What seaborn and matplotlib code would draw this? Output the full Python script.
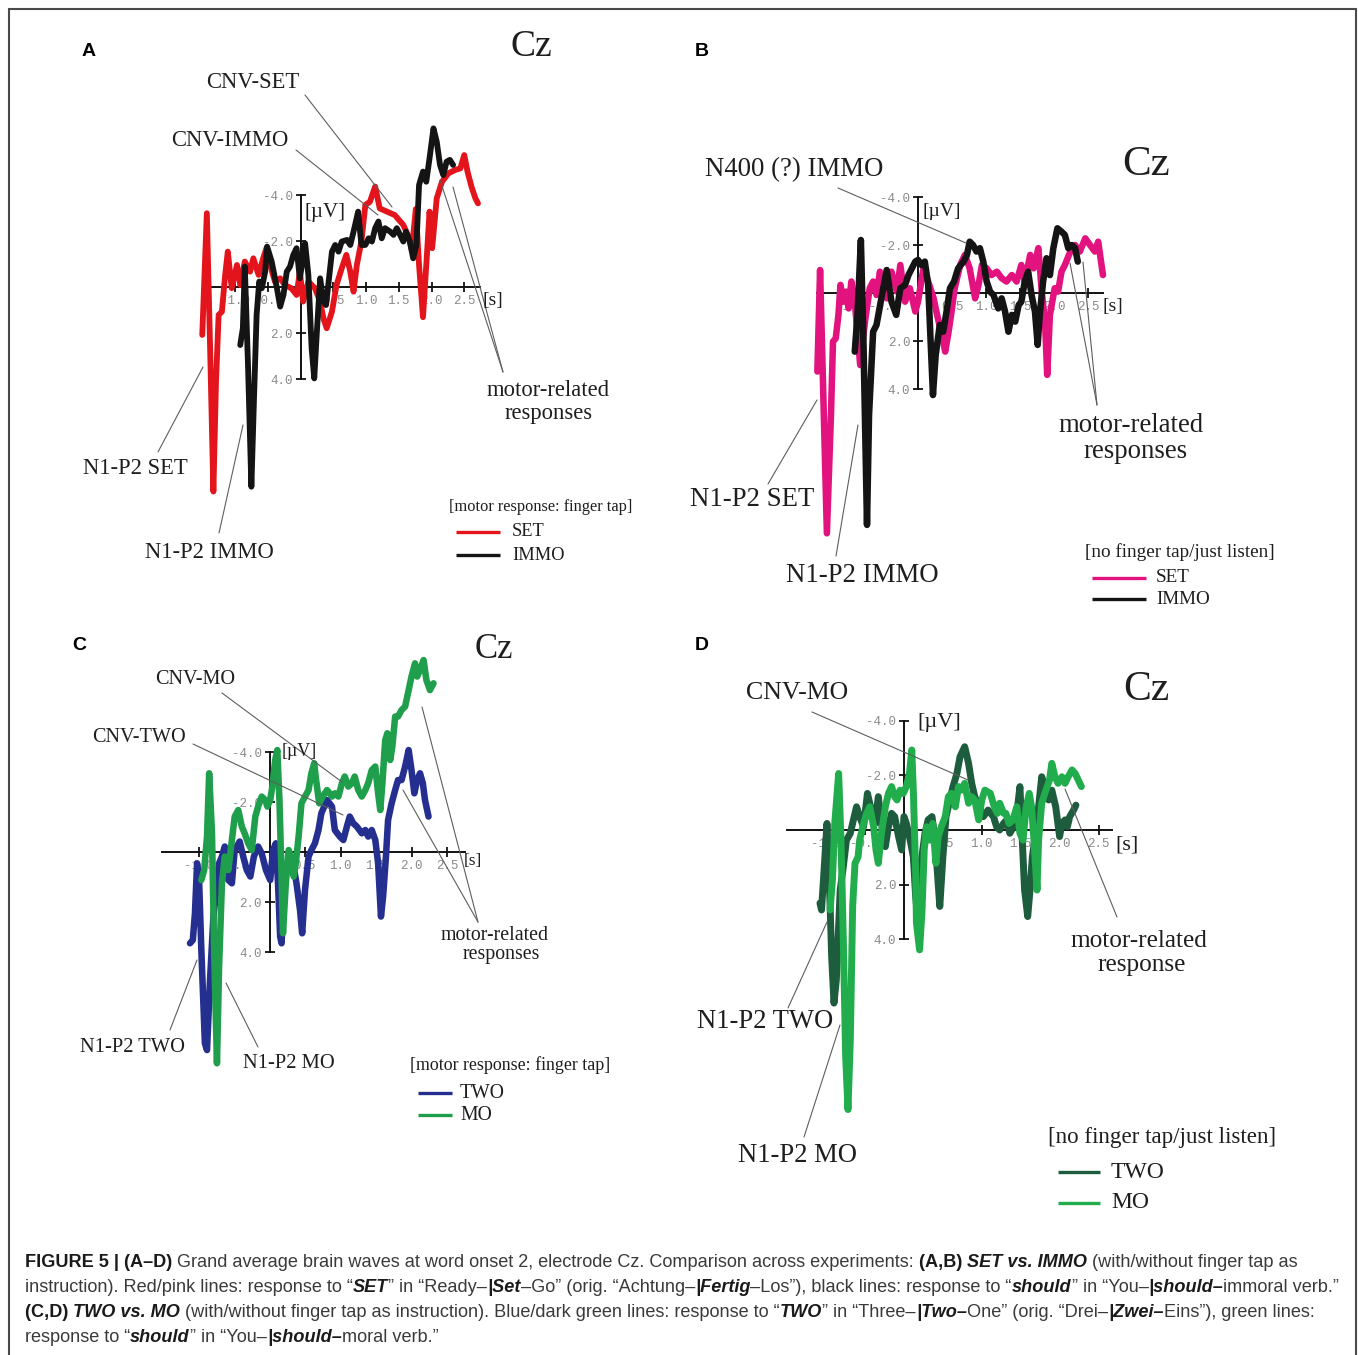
import numpy as np
import pandas as pd
import matplotlib
matplotlib.use("Agg")
import matplotlib.pyplot as plt
from matplotlib.lines import Line2D
import seaborn as sns

W, H = 1358, 1355
SERIF = ["Liberation Serif", "DejaVu Serif"]
SANS = ["Liberation Sans", "DejaVu Sans"]
MONO = ["Liberation Mono", "DejaVu Sans Mono"]

# ---------------- waveforms: (time [s], amplitude [uV]) ----------------
# A: finger tap, SET vs IMMO
a_set = [(-1.50, 2.07), (-1.43, -3.22), (-1.38, 2.65), (-1.33, 8.88), (-1.29, 4.10), (-1.25, 1.20),
         (-1.20, 1.06), (-1.15, -0.54), (-1.11, -1.55), (-1.05, 0.04), (-0.97, -0.97), (-0.92, -0.10),
         (-0.85, -1.12), (-0.77, -0.68), (-0.72, -1.26), (-0.64, -0.54), (-0.57, -1.26), (-0.52, -1.70),
         (-0.45, -0.83), (-0.39, -0.25), (-0.31, -0.39), (-0.24, -0.10), (-0.14, 0.04), (-0.06, 0.33),
         (-0.01, -0.68), (0.04, 0.62), (0.12, -0.25), (0.22, 0.04), (0.30, 0.62), (0.35, 1.35),
         (0.40, 1.78), (0.48, 1.06), (0.55, -0.10), (0.63, -0.83), (0.70, -1.41), (0.76, -0.68),
         (0.81, 0.19), (0.86, -0.97), (0.93, -1.99), (0.99, -3.58), (1.06, -3.72), (1.14, -4.38),
         (1.21, -3.43), (1.32, -3.29), (1.44, -3.14), (1.57, -2.71), (1.65, -2.20), (1.70, -1.60),
         (1.76, -3.40), (1.81, -0.97), (1.87, 1.30), (1.93, -1.41), (1.97, -3.29), (2.01, -1.70),
         (2.08, -3.87), (2.16, -4.59), (2.26, -4.96), (2.36, -5.10), (2.44, -5.17), (2.50, -5.75),
         (2.55, -5.03), (2.61, -4.38), (2.67, -3.87), (2.71, -3.65)]
a_immo = [(-0.92, 2.51), (-0.88, 1.78), (-0.85, -0.90), (-0.80, 3.52), (-0.75, 8.67), (-0.71, 4.83),
          (-0.67, 1.20), (-0.63, -0.25), (-0.59, 0.04), (-0.54, -0.68), (-0.51, -1.77), (-0.44, -1.12),
          (-0.36, 0.04), (-0.31, 0.84), (-0.26, 0.33), (-0.21, -0.68), (-0.16, -0.90), (-0.11, -1.41),
          (-0.06, -1.70), (-0.01, -0.39), (0.03, -1.12), (0.07, -1.91), (0.12, -0.54), (0.17, 2.65),
          (0.21, 3.96), (0.25, 1.93), (0.30, -0.39), (0.35, 0.62), (0.39, 0.77), (0.43, -0.25),
          (0.48, -1.55), (0.53, -1.84), (0.58, -1.55), (0.63, -1.99), (0.71, -2.06), (0.76, -1.84),
          (0.81, -2.42), (0.88, -3.29), (0.93, -1.84), (0.99, -1.84), (1.04, -2.13), (1.09, -1.99),
          (1.14, -2.57), (1.19, -2.86), (1.24, -2.13), (1.29, -2.57), (1.37, -2.42), (1.42, -2.28),
          (1.47, -2.57), (1.52, -2.28), (1.57, -1.99), (1.61, -2.42), (1.67, -1.99), (1.72, -1.26),
          (1.77, -1.84), (1.81, -4.45), (1.87, -5.03), (1.92, -4.59), (1.97, -5.61), (2.03, -6.91),
          (2.08, -6.33), (2.13, -5.32), (2.18, -4.88), (2.23, -5.46), (2.28, -5.54), (2.33, -5.32)]

# B: no finger tap, SET vs IMMO
b_set = [(-1.48, 3.26), (-1.44, -0.97), (-1.39, 4.51), (-1.34, 10.0), (-1.28, 5.07), (-1.25, 2.01),
         (-1.21, 1.88), (-1.17, 0.90), (-1.14, -0.35), (-1.10, 0.35), (-1.06, -0.07), (-1.02, 0.63),
         (-0.98, -0.49), (-0.93, 0.35), (-0.85, 2.99), (-0.78, 1.18), (-0.71, -0.21), (-0.66, -0.49),
         (-0.61, 0.07), (-0.56, -0.90), (-0.51, -0.07), (-0.46, 0.21), (-0.39, -0.90), (-0.31, -0.07),
         (-0.26, -1.18), (-0.19, 0.35), (-0.12, -0.21), (-0.04, 0.76), (0.00, 0.35), (0.08, -1.04),
         (0.15, -0.49), (0.23, 0.21), (0.27, 0.76), (0.35, 1.74), (0.40, 2.43), (0.45, 1.60),
         (0.50, 0.63), (0.54, -0.21), (0.62, -1.18), (0.69, -1.60), (0.76, -1.04), (0.84, 0.21),
         (0.89, -0.35), (0.94, -1.18), (1.01, -1.04), (1.08, -0.76), (1.16, -0.90), (1.23, -0.63),
         (1.30, -0.49), (1.38, -0.76), (1.45, -0.49), (1.52, -1.18), (1.57, -0.49), (1.65, -1.60),
         (1.70, -1.04), (1.77, -1.88), (1.82, -0.07), (1.87, 1.32), (1.90, 3.40), (1.94, 0.90),
         (2.01, -0.21), (2.06, -0.07), (2.11, -0.90), (2.16, -1.18), (2.24, -1.74), (2.31, -2.01),
         (2.38, -1.74), (2.46, -2.29), (2.53, -2.01), (2.60, -1.74), (2.65, -2.15), (2.72, -0.76)]
b_immo = [(-0.93, 2.43), (-0.89, 0.90), (-0.84, -2.22), (-0.80, 2.29), (-0.75, 9.65), (-0.72, 5.07),
          (-0.66, 1.60), (-0.61, 1.32), (-0.53, 0.07), (-0.46, -0.97), (-0.39, 0.35), (-0.32, 0.90),
          (-0.26, -0.21), (-0.19, -0.35), (-0.14, -0.76), (-0.09, -1.04), (-0.04, -1.32), (0.00, -1.39),
          (0.05, -1.18), (0.10, -1.32), (0.15, -0.35), (0.19, 2.29), (0.22, 4.24), (0.26, 2.57),
          (0.32, 1.32), (0.37, 1.60), (0.42, 0.76), (0.47, -0.21), (0.53, -0.49), (0.59, -1.04),
          (0.67, -1.32), (0.72, -1.60), (0.76, -2.15), (0.81, -2.01), (0.86, -1.74), (0.91, -1.88),
          (0.96, -1.32), (1.01, -0.49), (1.06, -0.07), (1.11, 0.07), (1.18, 0.63), (1.23, 0.21),
          (1.28, 0.76), (1.33, 1.60), (1.38, 0.90), (1.43, 1.18), (1.48, 0.49), (1.52, 0.35),
          (1.57, -0.49), (1.62, -0.90), (1.67, 0.07), (1.72, 0.76), (1.76, 2.15), (1.79, 0.90),
          (1.84, -0.49), (1.89, -1.46), (1.94, -0.76), (1.99, -1.88), (2.05, -2.71), (2.11, -2.57),
          (2.16, -2.43), (2.21, -1.88), (2.26, -2.01), (2.31, -1.88), (2.35, -1.32)]

# C: finger tap, TWO vs MO
c_two = [(-1.12, 3.64), (-1.08, 3.51), (-1.05, 2.44), (-1.02, 0.44), (-0.99, 1.24), (-0.96, 3.91),
         (-0.91, 7.64), (-0.88, 7.91), (-0.84, 5.24), (-0.79, 2.57), (-0.74, 1.24), (-0.71, 0.44),
         (-0.67, 0.17), (-0.63, -0.23), (-0.58, 1.11), (-0.53, 1.24), (-0.49, -0.09), (-0.42, -0.43),
         (-0.37, 0.17), (-0.32, 0.71), (-0.27, 0.97), (-0.22, 0.17), (-0.16, -0.23), (-0.11, 0.04),
         (-0.05, 0.71), (0.01, 1.11), (0.05, -0.09), (0.09, -0.36), (0.12, 1.24), (0.15, 3.37),
         (0.17, 3.64), (0.20, 1.91), (0.24, 0.57), (0.29, 0.17), (0.34, 0.57), (0.38, 1.24),
         (0.43, 2.31), (0.46, 3.24), (0.50, 1.51), (0.55, 0.17), (0.59, -0.09), (0.64, -0.36),
         (0.69, -0.89), (0.73, -1.56), (0.81, -2.09), (0.88, -1.83), (0.92, -0.89), (0.99, -0.63),
         (1.04, -0.49), (1.09, -1.03), (1.13, -1.43), (1.18, -1.16), (1.23, -1.03), (1.30, -0.76),
         (1.35, -0.89), (1.39, -0.63), (1.44, -0.89), (1.49, -0.49), (1.53, 0.44), (1.57, 2.57),
         (1.60, 1.77), (1.64, 0.17), (1.67, -1.29), (1.72, -1.96), (1.77, -2.49), (1.81, -2.89),
         (1.86, -2.89), (1.91, -3.43), (1.96, -4.09), (2.00, -3.29), (2.04, -2.36), (2.08, -2.89),
         (2.12, -3.16), (2.16, -2.76), (2.19, -2.09), (2.24, -1.43)]
c_mo = [(-0.96, 1.11), (-0.92, 0.71), (-0.88, -0.63), (-0.85, -3.16), (-0.81, -0.76), (-0.78, 3.91),
        (-0.74, 8.44), (-0.71, 4.57), (-0.67, 1.24), (-0.63, 0.17), (-0.58, 0.71), (-0.53, -0.49),
        (-0.49, -1.43), (-0.44, -1.69), (-0.39, -1.03), (-0.35, -0.76), (-0.30, -0.36), (-0.25, -0.09),
        (-0.20, -1.43), (-0.16, -1.83), (-0.11, -2.23), (-0.06, -2.09), (-0.03, -1.83), (0.01, -2.09),
        (0.04, -2.63), (0.08, -3.69), (0.11, -4.09), (0.14, -2.09), (0.17, 0.97), (0.19, 3.24),
        (0.23, 1.24), (0.27, -0.09), (0.30, 0.17), (0.34, 0.97), (0.37, 0.44), (0.41, -0.63),
        (0.45, -1.96), (0.50, -2.23), (0.55, -2.49), (0.59, -3.16), (0.63, -3.56), (0.65, -3.03),
        (0.70, -1.96), (0.75, -2.23), (0.81, -2.49), (0.88, -2.23), (0.92, -2.36), (0.97, -2.23),
        (1.02, -2.76), (1.06, -3.03), (1.11, -2.63), (1.16, -2.76), (1.20, -3.03), (1.25, -2.49),
        (1.30, -2.23), (1.35, -2.49), (1.39, -2.76), (1.44, -3.29), (1.49, -3.43), (1.53, -2.36),
        (1.56, -1.69), (1.59, -2.76), (1.63, -4.49), (1.66, -4.76), (1.70, -3.69), (1.73, -4.23),
        (1.77, -5.43), (1.81, -5.43), (1.86, -5.69), (1.91, -5.83), (1.96, -6.49), (2.00, -7.03),
        (2.05, -7.56), (2.08, -7.03), (2.12, -7.29), (2.17, -7.69), (2.21, -6.89), (2.26, -6.49),
        (2.31, -6.76)]

# D: no finger tap, TWO vs MO
d_two = [(-1.08, 2.68), (-1.06, 2.93), (-1.03, 1.59), (-0.99, -0.24), (-0.96, 1.83), (-0.93, 4.63),
         (-0.90, 6.34), (-0.87, 5.49), (-0.82, 2.20), (-0.78, 1.34), (-0.74, 0.37), (-0.69, 0.12),
         (-0.65, -0.37), (-0.61, -0.85), (-0.57, -0.49), (-0.52, -0.12), (-0.47, -1.34), (-0.43, -0.85),
         (-0.37, -0.24), (-0.33, -1.22), (-0.29, -0.24), (-0.24, 0.61), (-0.20, -0.12), (-0.16, -0.61),
         (-0.12, -0.49), (-0.07, 0.24), (-0.03, 0.73), (0.00, -0.49), (0.03, -0.24), (0.07, 0.24),
         (0.12, 0.98), (0.15, 2.44), (0.17, 3.05), (0.20, 1.83), (0.23, 0.98), (0.27, 0.12),
         (0.31, -0.37), (0.36, -0.49), (0.40, 0.37), (0.43, 1.59), (0.46, 2.80), (0.50, 0.98),
         (0.54, -0.49), (0.58, -0.98), (0.63, -1.59), (0.68, -2.07), (0.72, -2.68), (0.78, -3.05),
         (0.83, -2.44), (0.87, -1.71), (0.91, -1.22), (0.96, -0.85), (1.02, -0.49), (1.08, -0.73),
         (1.15, -0.49), (1.19, -0.12), (1.23, 0.00), (1.28, -0.24), (1.32, -0.37), (1.36, 0.12),
         (1.41, -0.12), (1.46, -0.85), (1.49, -1.59), (1.52, 0.37), (1.55, 2.20), (1.59, 3.17),
         (1.62, 2.20), (1.65, 0.98), (1.68, 0.37), (1.73, -0.85), (1.77, -1.95), (1.81, -1.59),
         (1.86, -1.10), (1.90, -1.46), (1.95, -0.85), (2.00, 0.24), (2.03, -0.24), (2.07, -0.37),
         (2.10, -0.12), (2.13, -0.49), (2.18, -0.73), (2.21, -0.91)]
d_mo = [(-0.95, 2.93), (-0.92, 1.83), (-0.89, -0.24), (-0.84, -2.07), (-0.81, 0.37), (-0.78, 4.02),
        (-0.75, 8.29), (-0.72, 10.24), (-0.69, 7.68), (-0.66, 2.80), (-0.63, 1.22), (-0.59, 0.98),
        (-0.57, 0.37), (-0.52, -0.24), (-0.48, -0.61), (-0.44, -0.85), (-0.39, -0.12), (-0.36, 0.73),
        (-0.33, 1.22), (-0.29, 0.12), (-0.24, -0.85), (-0.20, -1.34), (-0.16, -1.59), (-0.12, -1.22),
        (-0.09, -1.10), (-0.05, -1.46), (-0.01, -1.34), (0.03, -1.59), (0.07, -2.07), (0.10, -2.93),
        (0.12, -1.46), (0.15, 1.59), (0.16, 3.41), (0.20, 4.39), (0.23, 3.05), (0.26, 0.73),
        (0.29, -0.12), (0.33, 0.37), (0.37, -0.24), (0.41, 1.22), (0.44, 0.24), (0.48, -0.12),
        (0.53, -0.49), (0.57, -1.22), (0.61, -1.34), (0.66, -0.85), (0.70, -1.59), (0.74, -1.46),
        (0.78, -1.71), (0.83, -0.98), (0.87, -1.22), (0.91, -1.10), (0.96, -0.37), (1.00, -1.10),
        (1.04, -1.46), (1.11, -1.34), (1.16, -0.85), (1.20, -0.61), (1.23, -0.98), (1.28, -0.61),
        (1.31, -0.61), (1.35, -0.24), (1.40, -0.37), (1.45, -0.85), (1.49, 0.12), (1.53, 0.37),
        (1.57, -0.85), (1.61, -1.34), (1.64, -0.85), (1.67, 0.37), (1.71, 2.20), (1.73, 0.37),
        (1.77, -0.98), (1.81, -1.34), (1.87, -1.83), (1.90, -2.44), (1.94, -1.95), (1.98, -1.71),
        (2.03, -1.95), (2.07, -1.71), (2.11, -1.95), (2.16, -2.20), (2.20, -2.07), (2.24, -1.83),
        (2.28, -1.59)]

xtick_vals = [-1.0, -0.5, 0.5, 1.0, 1.5, 2.0, 2.5]
xtick_labels = ["-1.0", "-0.5", "0.5", "1.0", "1.5", "2.0", "2.5"]
ytick_vals = [-4.0, -2.0, 2.0, 4.0]
ytick_labels = ["-4.0", "-2.0", "2.0", "4.0"]

# ---------------- figure ----------------
sns.set_theme(style="white")
plt.rcParams["font.family"] = SERIF
plt.rcParams["axes.unicode_minus"] = False

fig = plt.figure(figsize=(W / 100, H / 100), dpi=100)
fig.patch.set_facecolor("white")


def fx(x):
    return x / W


def fy(y):
    return 1 - y / H


def put(x, y, s, size, ha="center", va="center", color="#1e1e1e", family=SERIF, **kw):
    return fig.text(fx(x), fy(y), s, fontsize=size, ha=ha, va=va, color=color, family=family, **kw)


def leader(p0, p1, color="#5e5e5e", lw=0.8):
    fig.add_artist(Line2D([fx(p0[0]), fx(p1[0])], [fy(p0[1]), fy(p1[1])],
                          transform=fig.transFigure, color=color, lw=lw))


def panel(series, colors, origin, scale, xspan, lw):
    ox, oy = origin
    sx, sy = scale
    t0, t1 = -1.7, 2.95
    v0, v1 = -8.6, 10.8
    left, right = ox + t0 * sx, ox + t1 * sx
    top, bottom = oy + v0 * sy, oy + v1 * sy
    ax = fig.add_axes([fx(left), fy(bottom), (right - left) / W, (bottom - top) / H])
    ax.set_facecolor("none")
    frames = []
    for name, pts in series:
        arr = np.asarray(pts, dtype=float)
        frames.append(pd.DataFrame({"t": arr[:, 0], "v": arr[:, 1], "cond": name}))
    df = pd.concat(frames, ignore_index=True)
    order = [name for name, _ in series]
    sns.lineplot(data=df, x="t", y="v", hue="cond", hue_order=order, palette=colors,
                 estimator=None, sort=False, legend=False, lw=lw, ax=ax)
    for ln in ax.lines:
        ln.set_solid_joinstyle("round")
        ln.set_solid_capstyle("round")
        ln.set_zorder(3)
    ax.set_xlim(t0, t1)
    ax.set_ylim(v1, v0)
    ax.set_xlabel("")
    ax.set_ylabel("")
    ax.grid(False)
    for s in ("top", "right"):
        ax.spines[s].set_visible(False)
    ax.spines["left"].set_position(("data", 0))
    ax.spines["left"].set_bounds(-4, 4)
    ax.spines["bottom"].set_position(("data", 0))
    ax.spines["bottom"].set_bounds(*xspan)
    for s in ("left", "bottom"):
        ax.spines[s].set_color("#111111")
        ax.spines[s].set_linewidth(1.4)
        ax.spines[s].set_zorder(2)
    ax.set_xticks(xtick_vals, xtick_labels)
    ax.set_yticks(ytick_vals, ytick_labels)
    ax.tick_params(bottom=True, left=True, direction="inout", length=7, width=1.3,
                   color="#111111", labelsize=9, labelcolor="#8a8a8a", pad=2)
    for lab in ax.get_xticklabels() + ax.get_yticklabels():
        lab.set_family(MONO)
    return ax


def legend_key(x0, x1, y, color, text, tx, size):
    fig.add_artist(Line2D([fx(x0), fx(x1)], [fy(y), fy(y)], transform=fig.transFigure,
                          color=color, lw=2.4, solid_capstyle="butt"))
    put(tx, y, text, size, ha="left")


RED, PINK, BLACK = "#e3141b", "#e2137e", "#141414"
NAVY, GREEN = "#252f8f", "#1f9f4b"
DKGREEN, LTGREEN = "#1d5c3c", "#22ad4d"

# ---- A ----
panel([("SET", a_set), ("IMMO", a_immo)], [RED, BLACK], (300.5, 287.3), (65.5, 23.0), (-1.35, 2.74), 4.2)
put(89, 52, "A", 14, family=SANS, weight="bold", color="#000000")
put(531, 47, "Cz", 27)
put(305, 213, "[\u00b5V]", 15, ha="left")
put(482, 300, "[s]", 14, ha="left")
put(253, 82, "CNV-SET", 16.3)
put(230, 140, "CNV-IMMO", 16.3)
put(548, 390, "motor-related", 16.3)
put(549, 413, "responses", 16.3)
put(135, 469, "N1-P2 SET", 16.3)
put(209, 553, "N1-P2 IMMO", 16.3)
leader((305, 95), (392, 207))
leader((296, 150), (378, 215))
leader((503, 372), (440, 180))
leader((503, 372), (453, 187))
leader((158, 452), (203, 367))
leader((219, 533), (243, 425))
put(541, 507, "[motor response: finger tap]", 11.8)
legend_key(456, 500, 532, RED, "SET", 512, 13.2)
legend_key(456, 500, 555, BLACK, "IMMO", 512, 13.2)

# ---- B ----
panel([("SET", b_set), ("IMMO", b_immo)], [PINK, BLACK], (918, 293.3), (68.0, 24.0), (-1.49, 2.72), 4.7)
put(702, 52, "B", 14, family=SANS, weight="bold", color="#000000")
put(1146, 165, "Cz", 31)
put(923, 212, "[\u00b5V]", 14, ha="left")
put(1103, 307, "[s]", 14, ha="left")
put(794, 170, "N400 (?) IMMO", 19.3)
put(1131, 425, "motor-related", 19.3)
put(1135, 452, "responses", 19.3)
put(752, 499, "N1-P2 SET", 19.3)
put(862, 576, "N1-P2 IMMO", 19.3)
leader((838, 188), (966, 243))
leader((1097, 405), (1070, 263))
leader((1097, 405), (1083, 262))
leader((768, 484), (817, 400))
leader((836, 556), (858, 425))
put(1180, 552, "[no finger tap/just listen]", 13.8)
legend_key(1092, 1146, 578, PINK, "SET", 1156, 13.8)
legend_key(1092, 1146, 599, BLACK, "IMMO", 1156, 13.8)

# ---- C ----
panel([("TWO", c_two), ("MO", c_mo)], [NAVY, GREEN], (269.5, 852.3), (71.0, 25.0), (-1.51, 2.76), 4.7)
put(79, 646, "C", 14, family=SANS, weight="bold", color="#000000")
put(494, 650, "Cz", 25)
put(282, 751, "[\u00b5V]", 13, ha="left")
put(464, 861, "[s]", 12.5, ha="left")
put(195, 679, "CNV-MO", 14.6)
put(139, 738, "CNV-TWO", 14.6)
put(495, 936, "motor-related", 14.3)
put(501, 955, "responses", 14.3)
put(133, 1047, "N1-P2 TWO", 14.8)
put(289, 1064, "N1-P2 MO", 14.8)
leader((222, 693), (342, 782))
leader((193, 744), (343, 815))
leader((478, 922), (422, 707))
leader((478, 922), (403, 790))
leader((170, 1030), (197, 960))
leader((258, 1047), (226, 983))
put(510, 1065, "[motor response: finger tap]", 12.9)
legend_key(418, 452, 1093, NAVY, "TWO", 460, 14.2)
legend_key(418, 452, 1115, GREEN, "MO", 460, 14.2)

# ---- D ----
panel([("TWO", d_two), ("MO", d_mo)], [DKGREEN, LTGREEN], (904, 830), (77.8, 27.3), (-1.50, 2.67), 5.0)
put(702, 646, "D", 14, family=SANS, weight="bold", color="#000000")
put(1146, 690, "Cz", 30)
put(917, 722, "[\u00b5V]", 16, ha="left")
put(1115, 845, "[s]", 16, ha="left")
put(797, 693, "CNV-MO", 18.6)
put(1139, 941, "motor-related", 18.2)
put(1142, 965, "response", 18.2)
put(765, 1021, "N1-P2 TWO", 19.2)
put(798, 1156, "N1-P2 MO", 19.2)
leader((812, 712), (968, 780))
leader((1065, 789), (1117, 917))
leader((788, 1008), (827, 922))
leader((804, 1137), (840, 1025))
put(1162, 1137, "[no finger tap/just listen]", 16.6)
legend_key(1058, 1100, 1172, DKGREEN, "TWO", 1111, 17)
legend_key(1058, 1100, 1203, LTGREEN, "MO", 1111, 17)

# ---------------- caption ----------------
REG = ("normal", "normal")
BLD = ("bold", "normal")
BIT = ("bold", "italic")
caption_lines = [
    [("FIGURE 5 | (A\u2013D)", BLD),
     (" Grand average brain waves at word onset 2, electrode Cz. Comparison across experiments: ", REG),
     ("(A,B) ", BLD), ("SET vs. IMMO", BIT), (" (with/without finger tap as", REG)],
    [("instruction). Red/pink lines: response to \u201c", REG), ("SET", BIT), ("\u201d in \u201cReady\u2013", REG),
     ("|Set", BIT), ("\u2013Go\u201d (orig. \u201cAchtung\u2013", REG), ("|Fertig", BIT),
     ("\u2013Los\u201d), black lines: response to \u201c", REG), ("should", BIT), ("\u201d in \u201cYou\u2013", REG),
     ("|should\u2013", BIT), ("immoral verb.\u201d", REG)],
    [("(C,D) ", BLD), ("TWO vs. MO", BIT),
     (" (with/without finger tap as instruction). Blue/dark green lines: response to \u201c", REG),
     ("TWO", BIT), ("\u201d in \u201cThree\u2013", REG), ("|Two\u2013", BIT), ("One\u201d (orig. \u201cDrei\u2013", REG),
     ("|Zwei\u2013", BIT), ("Eins\u201d), green lines:", REG)],
    [("response to \u201c", REG), ("should", BIT), ("\u201d in \u201cYou\u2013", REG), ("|should\u2013", BIT),
     ("moral verb.\u201d", REG)],
]
caption_baselines = [1267, 1292, 1317, 1342]

renderer = fig.canvas.get_renderer()


def run_width(s, size, weight, style):
    probe = fig.text(0, 0, "x" + s + "x", fontsize=size, weight=weight, style=style, family=SANS)
    w1 = probe.get_window_extent(renderer).width
    probe.set_text("xx")
    w2 = probe.get_window_extent(renderer).width
    probe.remove()
    return w1 - w2


base = 12.0
full = sum(run_width(s, base, *st) for s, st in caption_lines[1])
cap_size = base * (1338 - 25) / full

for runs, yb in zip(caption_lines, caption_baselines):
    x = 25
    for s, (weight, style) in runs:
        col = "#3a3a3a" if weight == "normal" else "#1a1a1a"
        fig.text(fx(x), fy(yb), s, fontsize=cap_size, weight=weight, style=style,
                 family=SANS, color=col, ha="left", va="baseline")
        x += run_width(s, cap_size, weight, style)

# ---------------- frame ----------------
for xs, ys in [([8.5, 8.5], [1355, 8.5]), ([8.5, 1355.5], [8.5, 8.5]), ([1355.5, 1355.5], [8.5, 1355])]:
    fig.add_artist(Line2D([fx(v) for v in xs], [fy(v) for v in ys], transform=fig.transFigure,
                          color="#4a4a4a", lw=1.5))

fig.savefig("out.png", dpi=100, facecolor="white")
